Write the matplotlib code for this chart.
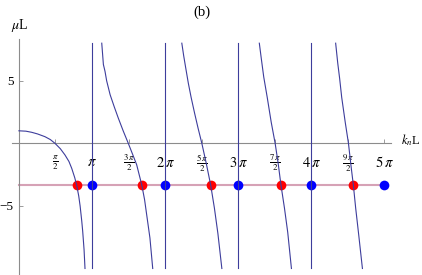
import numpy as np
import matplotlib
matplotlib.use("Agg")
import matplotlib.pyplot as plt

# branches of muL vs k_nL
branch1_k = [0.0, 0.3, 0.55, 0.8, 1.12, 1.35, 1.55, 1.78, 1.98, 2.15, 2.27,
             2.40, 2.48, 2.57, 2.63, 2.70, 2.74, 2.80, 2.84]
branch1_mu = [1.0, 0.97, 0.88, 0.75, 0.53, 0.30, 0.0, -0.43, -0.93, -1.45,
              -2.0, -2.75, -3.33, -4.2, -5.0, -6.2, -7.0, -8.5, -10.0]
branch2_k = [3.56, 3.63, 3.70, 3.77, 3.92, 4.10, 4.27, 4.48, 4.70, 4.88,
             5.06, 5.28, 5.40, 5.49, 5.63, 5.75]
branch2_mu = [8.0, 6.3, 5.75, 5.0, 3.88, 2.9, 2.02, 1.0, 0.0, -0.85, -1.71,
              -3.33, -4.5, -5.7, -7.56, -10.0]
branch3_k = [7.00, 7.08, 7.17, 7.28, 7.40, 7.55, 7.70, 7.86, 8.05, 8.24,
             8.40, 8.55, 8.72]
branch3_mu = [8.0, 7.0, 6.0, 4.8, 3.67, 2.4, 1.2, 0.0, -1.6, -3.33, -5.17,
              -7.2, -10.0]
branch4_k = [10.33, 10.42, 10.52, 10.67, 10.84, 11.01, 11.14, 11.26, 11.41,
             11.55, 11.71]
branch4_mu = [8.0, 6.7, 5.3, 3.67, 1.7, 0.0, -1.6, -3.33, -5.17, -7.1, -10.0]
branch5_k = [13.61, 13.70, 13.78, 13.87, 14.02, 14.16, 14.27, 14.37, 14.47,
             14.60, 14.76]
branch5_mu = [8.0, 6.4, 5.2, 3.67, 1.7, 0.0, -1.8, -3.33, -5.17, -7.3, -10.0]

asymptote_k = [np.pi, 2 * np.pi, 3 * np.pi, 4 * np.pi]
mu_level = -3.33
red_k = [2.48, 5.28, 8.24, 11.26, 14.37]
blue_k = [np.pi, 2 * np.pi, 3 * np.pi, 4 * np.pi, 5 * np.pi]

xtick_vals = [np.pi / 2, np.pi, 3 * np.pi / 2, 2 * np.pi, 5 * np.pi / 2,
              3 * np.pi, 7 * np.pi / 2, 4 * np.pi, 9 * np.pi / 2, 5 * np.pi]
xtick_labels = [r"$\frac{\pi}{2}$", r"$\pi$", r"$\frac{3\,\pi}{2}$",
                r"$2\,\pi$", r"$\frac{5\,\pi}{2}$", r"$3\,\pi$",
                r"$\frac{7\,\pi}{2}$", r"$4\,\pi$", r"$\frac{9\,\pi}{2}$",
                r"$5\,\pi$"]
ytick_vals = [-5, 5]
ytick_labels = ["\u22125", "5"]

CURVE = "#3d3d9c"
AXIS = "#8c8c8c"

plt.rcParams["font.family"] = ["Liberation Serif", "DejaVu Serif"]
plt.rcParams["mathtext.fontset"] = "stix"

fig = plt.figure(figsize=(4.22, 2.75), dpi=100)
ax = fig.add_axes([0, 0, 1, 1])
ax.set_xlim(-0.812, 17.32)
ax.set_ylim(-10.52, 11.45)

# axes through the origin, mathematica style
for s in ("top", "right"):
    ax.spines[s].set_visible(False)
ax.spines["left"].set_position(("data", 0))
ax.spines["bottom"].set_position(("data", 0))
ax.spines["left"].set_bounds(-10.44, 8.33)
ax.spines["bottom"].set_bounds(-0.31, 15.99)
for s in ("left", "bottom"):
    ax.spines[s].set_color(AXIS)
    ax.spines[s].set_linewidth(0.8)

ax.set_xticks(xtick_vals)
ax.set_xticklabels([])
ax.set_yticks(ytick_vals)
ax.set_yticklabels(ytick_labels, fontsize=9.5)
ax.tick_params(direction="in", length=3, width=0.6, color=AXIS)
ax.tick_params(axis="y", pad=4)

for xv, lab in zip(xtick_vals, xtick_labels):
    fs = 9 if "frac" in lab else 10.5
    ax.text(xv, -1.57, lab, ha="center", va="center", fontsize=fs)

# horizontal level and the points on it
ax.plot([0, 5 * np.pi], [mu_level, mu_level], color="#d6a2b6", lw=1.5,
        zorder=1)
ax.plot(red_k, [mu_level] * len(red_k), "o", color="#ff0000", ms=7,
        mec="none", zorder=2)
ax.plot(blue_k, [mu_level] * len(blue_k), "o", color="#0000ff", ms=7,
        mec="none", zorder=2)

branches = [(branch1_k, branch1_mu), (branch2_k, branch2_mu),
            (branch3_k, branch3_mu), (branch4_k, branch4_mu),
            (branch5_k, branch5_mu)]
for bk, bm in branches:
    ax.plot(bk, bm, color=CURVE, lw=0.8, zorder=3)
for ak in asymptote_k:
    ax.plot([ak, ak], [-10.0, 8.0], color=CURVE, lw=0.8, zorder=3)

ax.text(0.05, 9.45, r"$\mu$L", ha="center", va="center", fontsize=10)
ax.text(16.42, 0.26, r"$k_n$L", ha="left", va="center", fontsize=9)
ax.text(7.87, 10.49, "(b)", ha="center", va="center", fontsize=10.5)

fig.savefig("out.png", dpi=100)
